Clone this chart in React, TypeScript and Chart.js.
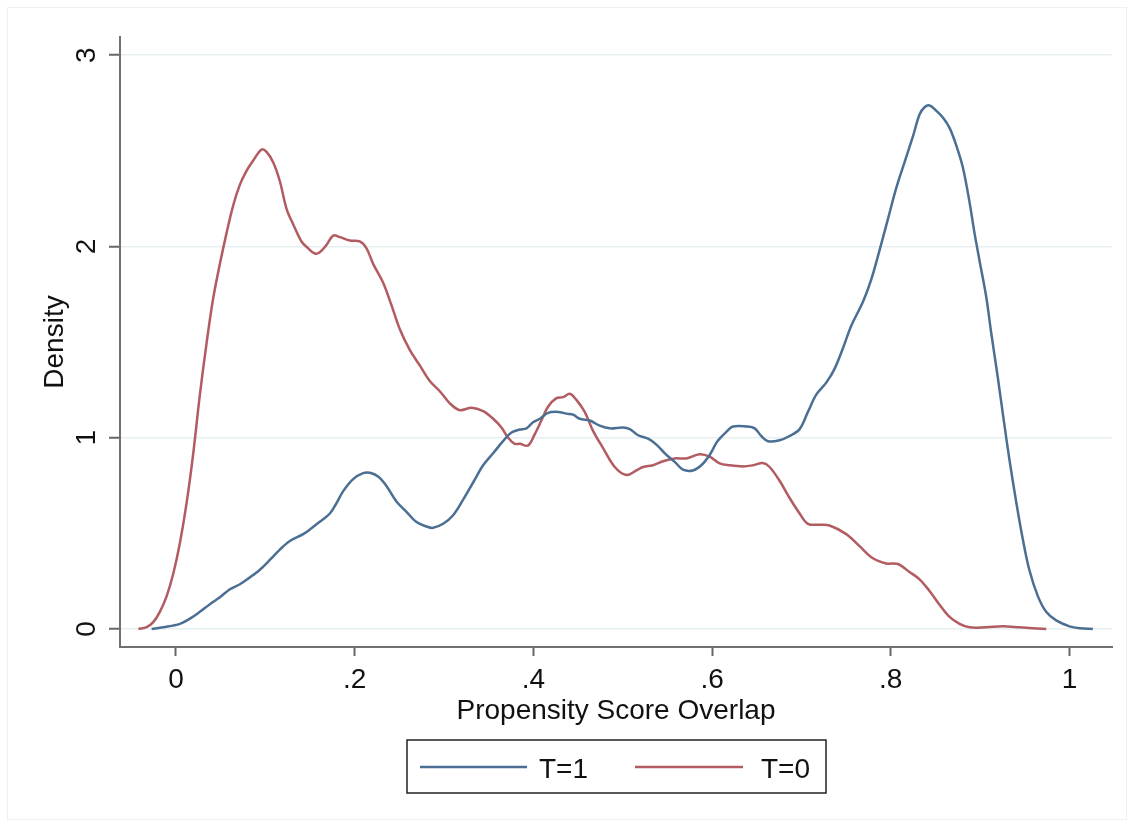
import React, { useEffect, useRef } from 'react';
import { Chart, registerables } from 'chart.js';

Chart.register(...registerables);

// T=1 density curve
const t1X = [-0.0272, -0.0142, 0.0045, 0.0157, 0.0268, 0.038, 0.0492, 0.0604, 0.0716, 0.0828, 0.0939, 0.1051, 0.1163, 0.1275, 0.1424, 0.1517, 0.161, 0.1723, 0.1797, 0.1872, 0.1983, 0.2095, 0.217, 0.2263, 0.2356, 0.2468, 0.258, 0.2692, 0.2804, 0.2878, 0.299, 0.3102, 0.3214, 0.3326, 0.3438, 0.355, 0.3661, 0.3755, 0.3848, 0.3922, 0.3997, 0.4072, 0.4165, 0.4277, 0.4371, 0.4445, 0.452, 0.4632, 0.4743, 0.4855, 0.5004, 0.5079, 0.5172, 0.5284, 0.5377, 0.5489, 0.5582, 0.5675, 0.5787, 0.588, 0.5973, 0.6048, 0.6085, 0.616, 0.6234, 0.6383, 0.6477, 0.6551, 0.6626, 0.6756, 0.6868, 0.698, 0.7073, 0.7166, 0.7278, 0.7371, 0.7465, 0.7558, 0.7689, 0.7782, 0.7875, 0.7968, 0.8061, 0.8154, 0.8248, 0.8322, 0.8378, 0.8434, 0.8508, 0.8583, 0.8658, 0.8732, 0.8807, 0.8881, 0.8937, 0.8993, 0.9068, 0.9124, 0.9198, 0.9273, 0.9329, 0.9403, 0.9478, 0.9552, 0.9646, 0.9739, 0.9851, 1.0001, 1.0113, 1.0262];
const t1Y = [0, 0.009, 0.027, 0.054, 0.09, 0.13, 0.166, 0.208, 0.234, 0.27, 0.31, 0.361, 0.415, 0.46, 0.496, 0.527, 0.561, 0.604, 0.658, 0.721, 0.784, 0.815, 0.817, 0.797, 0.748, 0.667, 0.613, 0.559, 0.536, 0.529, 0.55, 0.595, 0.676, 0.766, 0.856, 0.919, 0.982, 1.027, 1.043, 1.049, 1.081, 1.099, 1.13, 1.135, 1.126, 1.121, 1.099, 1.09, 1.063, 1.049, 1.054, 1.045, 1.013, 0.995, 0.964, 0.91, 0.874, 0.833, 0.829, 0.856, 0.91, 0.973, 0.995, 1.031, 1.059, 1.059, 1.049, 1.009, 0.982, 0.987, 1.009, 1.045, 1.135, 1.225, 1.288, 1.36, 1.468, 1.585, 1.711, 1.828, 1.981, 2.143, 2.305, 2.44, 2.575, 2.69, 2.728, 2.737, 2.71, 2.674, 2.62, 2.53, 2.413, 2.233, 2.071, 1.927, 1.738, 1.549, 1.315, 1.063, 0.883, 0.667, 0.469, 0.307, 0.172, 0.09, 0.045, 0.014, 0.004, 0];

// T=0 density curve
const t0X = [-0.042, -0.0328, -0.0254, -0.018, -0.0104, -0.003, 0.0045, 0.0119, 0.0194, 0.0268, 0.0343, 0.0417, 0.0492, 0.0567, 0.0641, 0.0716, 0.079, 0.0865, 0.0959, 0.1014, 0.1088, 0.1163, 0.1238, 0.1312, 0.1405, 0.148, 0.1554, 0.161, 0.1685, 0.176, 0.1834, 0.1946, 0.2058, 0.2133, 0.2207, 0.2319, 0.2412, 0.2506, 0.2617, 0.2729, 0.2841, 0.2953, 0.3065, 0.3177, 0.3308, 0.3438, 0.355, 0.3643, 0.3718, 0.3792, 0.3848, 0.394, 0.4015, 0.409, 0.4164, 0.4258, 0.4333, 0.4407, 0.4482, 0.4575, 0.4668, 0.478, 0.4911, 0.5041, 0.5153, 0.5227, 0.5339, 0.5451, 0.5582, 0.5712, 0.5861, 0.5973, 0.6085, 0.6197, 0.6346, 0.6458, 0.657, 0.6644, 0.6756, 0.6868, 0.698, 0.7073, 0.7204, 0.7315, 0.7502, 0.7651, 0.78, 0.7949, 0.808, 0.821, 0.8322, 0.8434, 0.8546, 0.8658, 0.877, 0.8881, 0.9068, 0.9255, 0.9441, 0.974];
const t0Y = [0, 0.01, 0.036, 0.09, 0.172, 0.289, 0.451, 0.658, 0.919, 1.225, 1.495, 1.729, 1.909, 2.071, 2.215, 2.323, 2.395, 2.449, 2.507, 2.494, 2.44, 2.341, 2.197, 2.116, 2.026, 1.99, 1.963, 1.97, 2.008, 2.057, 2.049, 2.031, 2.026, 1.99, 1.909, 1.81, 1.693, 1.567, 1.459, 1.378, 1.297, 1.243, 1.18, 1.144, 1.157, 1.139, 1.099, 1.054, 1.0, 0.968, 0.968, 0.959, 1.018, 1.09, 1.162, 1.207, 1.212, 1.23, 1.198, 1.135, 1.036, 0.946, 0.847, 0.805, 0.829, 0.847, 0.856, 0.877, 0.892, 0.892, 0.914, 0.901, 0.866, 0.856, 0.85, 0.856, 0.868, 0.847, 0.775, 0.685, 0.604, 0.55, 0.545, 0.541, 0.496, 0.433, 0.37, 0.343, 0.34, 0.298, 0.26, 0.199, 0.127, 0.063, 0.027, 0.009, 0.009, 0.014, 0.009, 0];

const xTicks = [0, 0.2, 0.4, 0.6, 0.8, 1];
const xTickLabels = ['0', '.2', '.4', '.6', '.8', '1'];
const yTicks = [0, 1, 2, 3];
const yTickLabels = ['0', '1', '2', '3'];
const seriesNames = ['T=1', 'T=0'];
const xTitle = 'Propensity Score Overlap';
const yTitle = 'Density';

const BLUE = '#4b6f92';
const RED = '#b25c62';
const FONT = '"Liberation Sans", Arial, Helvetica, sans-serif';
const FS = 28;

const decor = {
  id: 'stataDecor',
  beforeDraw(chart: any) {
    const ctx = chart.ctx;
    ctx.save();
    ctx.fillStyle = '#ffffff';
    ctx.fillRect(0, 0, chart.width, chart.height);
    ctx.restore();
  },
  afterDraw(chart: any) {
    const ctx = chart.ctx;
    const xs = chart.scales.x;
    const ys = chart.scales.y;
    const area = chart.chartArea;
    ctx.save();
    // faint outer frame
    ctx.strokeStyle = '#efefef';
    ctx.lineWidth = 1;
    ctx.strokeRect(7.5, 7.5, chart.width - 15, chart.height - 15);

    ctx.fillStyle = '#111';
    ctx.font = `${FS}px ${FONT}`;
    // y tick labels rotated
    yTicks.forEach((v, i) => {
      const py = ys.getPixelForValue(v);
      ctx.save();
      ctx.translate(87, py);
      ctx.rotate(-Math.PI / 2);
      ctx.textAlign = 'center';
      ctx.textBaseline = 'middle';
      ctx.fillText(yTickLabels[i], 0, 0);
      ctx.restore();
    });
    // y title
    ctx.save();
    ctx.translate(55, (area.top + area.bottom) / 2);
    ctx.rotate(-Math.PI / 2);
    ctx.textAlign = 'center';
    ctx.textBaseline = 'middle';
    ctx.fillText(yTitle, 0, 0);
    ctx.restore();
    // x tick labels
    ctx.textAlign = 'center';
    ctx.textBaseline = 'alphabetic';
    xTicks.forEach((v, i) => {
      const px = xs.getPixelForValue(v);
      ctx.fillText(xTickLabels[i], px, 688);
    });
    // x title
    ctx.fillText(xTitle, (area.left + area.right) / 2, 719);

    // legend
    const lx = 407, ly = 740, lw = 419, lh = 53;
    ctx.strokeStyle = '#222';
    ctx.lineWidth = 1.5;
    ctx.strokeRect(lx, ly, lw, lh);
    const midY = 767;
    const items = [
      { color: BLUE, x1: 420, x2: 527, tx: 539, label: seriesNames[0] },
      { color: RED, x1: 635, x2: 743, tx: 761, label: seriesNames[1] },
    ];
    items.forEach((it) => {
      ctx.strokeStyle = it.color;
      ctx.lineWidth = 2.5;
      ctx.beginPath();
      ctx.moveTo(it.x1, midY);
      ctx.lineTo(it.x2, midY);
      ctx.stroke();
      ctx.fillStyle = '#111';
      ctx.textAlign = 'left';
      ctx.textBaseline = 'alphabetic';
      ctx.fillText(it.label, it.tx, 778);
    });
    ctx.restore();
  },
};

export default function App() {
  const ref = useRef<HTMLCanvasElement | null>(null);
  useEffect(() => {
    document.body.style.margin = '0';
    if (!ref.current) return;
    const chart = new Chart(ref.current, {
      type: 'scatter',
      data: {
        datasets: [
          {
            label: seriesNames[0],
            data: t1X.map((x, i) => ({ x, y: t1Y[i] })),
            borderColor: BLUE,
            backgroundColor: BLUE,
            showLine: true,
            borderWidth: 2.5,
            pointRadius: 0,
            tension: 0.35,
          },
          {
            label: seriesNames[1],
            data: t0X.map((x, i) => ({ x, y: t0Y[i] })),
            borderColor: RED,
            backgroundColor: RED,
            showLine: true,
            borderWidth: 2.5,
            pointRadius: 0,
            tension: 0.35,
          },
        ],
      },
      options: {
        responsive: false,
        animation: false,
        devicePixelRatio: 1,
        layout: { padding: { left: 0, right: 22, top: 37, bottom: 0 } },
        plugins: { legend: { display: false }, tooltip: { enabled: false } },
        scales: {
          x: {
            type: 'linear',
            min: -0.0626,
            max: 1.0476,
            afterBuildTicks: (s: any) => {
              s.ticks = xTicks.map((v) => ({ value: v }));
            },
            afterFit: (s: any) => {
              s.height = 180;
            },
            ticks: { display: false },
            grid: {
              drawOnChartArea: false,
              drawTicks: true,
              tickLength: 9,
              tickColor: '#666',
              tickWidth: 2,
            },
            border: { display: true, color: '#707070', width: 2 },
          },
          y: {
            type: 'linear',
            min: -0.094,
            max: 3.095,
            afterBuildTicks: (s: any) => {
              s.ticks = yTicks.map((v) => ({ value: v }));
            },
            afterFit: (s: any) => {
              s.width = 120;
            },
            ticks: { display: false },
            grid: {
              color: '#e6eff2',
              lineWidth: 1.5,
              drawTicks: true,
              tickLength: 11,
              tickColor: '#666',
              tickWidth: 2,
            },
            border: { display: true, color: '#707070', width: 2 },
          },
        },
      },
      plugins: [decor],
    });
    return () => chart.destroy();
  }, []);
  return (
    <div style={{ width: 1134, height: 827 }}>
      <canvas ref={ref} width={1134} height={827} style={{ display: 'block' }} />
    </div>
  );
}
